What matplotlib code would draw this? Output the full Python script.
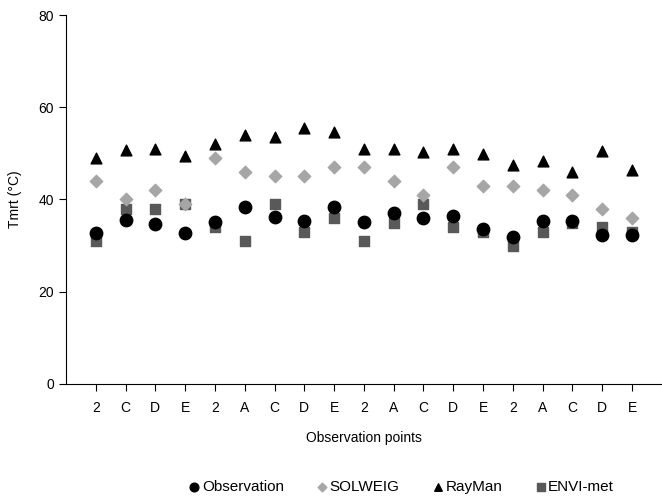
import matplotlib.pyplot as plt
import numpy as np

plt.rcParams['font.family'] = ['Liberation Sans', 'DejaVu Sans']

# Observation point labels along x
points = ['2', 'C', 'D', 'E', '2', 'A', 'C', 'D', 'E', '2',
          'A', 'C', 'D', 'E', '2', 'A', 'C', 'D', 'E']

# Tmrt values (deg C)
observation = [32.7, 35.6, 34.7, 32.8, 35.1, 38.4, 36.3, 35.3, 38.4, 35.1,
               37.1, 35.9, 36.5, 33.7, 31.9, 35.3, 35.4, 32.3, 32.3]
solweig = [44, 40, 42, 39, 49, 46, 45, 45, 47, 47,
           44, 41, 47, 43, 43, 42, 41, 38, 36]
rayman = [48.9, 50.7, 50.9, 49.4, 52.0, 54.0, 53.5, 55.6, 54.6, 50.9,
          51.0, 50.3, 50.9, 49.9, 47.4, 48.3, 45.9, 50.5, 46.5]
envimet = [31, 38, 38, 39, 34, 31, 39, 33, 36, 31,
           35, 39, 34, 33, 30, 33, 35, 34, 33]

x = np.arange(len(points))

fig = plt.figure(figsize=(6.62, 4.97), dpi=100)
ax = fig.add_axes([0.0997, 0.2274, 0.9, 0.7424])

ax.scatter(x, observation, marker='o', s=80, color='black', label='Observation', zorder=3)
ax.scatter(x, solweig, marker='D', s=40, color='#a6a6a6', label='SOLWEIG', zorder=3)
ax.scatter(x, rayman, marker='^', s=60, color='black', label='RayMan', zorder=3)
ax.scatter(x, envimet, marker='s', s=55, color='#595959', label='ENVI-met', zorder=2)

ax.set_xlim(-1, 19)
ax.set_ylim(0, 80)
ax.set_yticks([0, 20, 40, 60, 80])
ax.set_xticks(x)
ax.set_xticklabels(points)
ax.tick_params(axis='both', labelsize=10, direction='out', length=5, width=0.8)
ax.tick_params(axis='x', pad=7)
ax.spines['top'].set_visible(False)
ax.spines['right'].set_visible(False)

ax.set_ylabel('Tmrt (°C)', fontsize=10, labelpad=12)
ax.set_xlabel('Observation points', fontsize=10, labelpad=12)

fig.legend(*ax.get_legend_handles_labels(), loc='center', bbox_to_anchor=(0.606, 0.02),
           ncol=4, frameon=False, fontsize=11, markerscale=0.7,
           handlelength=0.8, handletextpad=0.1, columnspacing=2.1)

fig.savefig('out.png', dpi=100)
